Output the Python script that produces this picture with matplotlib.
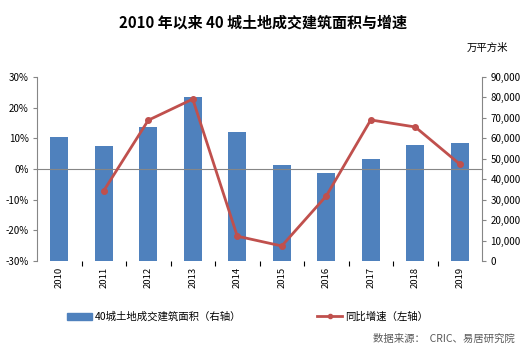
import matplotlib.pyplot as plt
from matplotlib.lines import Line2D
from matplotlib.patches import Patch
from matplotlib.ticker import FuncFormatter, FixedLocator

plt.rcParams['font.family'] = ['Noto Sans CJK SC', 'DejaVu Sans']

years = ['2010', '2011', '2012', '2013', '2014', '2015', '2016', '2017', '2018', '2019']
area = [60700, 56400, 65400, 80400, 62900, 47000, 42900, 49700, 56600, 57700]  # 万平方米
growth = [None, -7.1, 15.9, 22.8, -21.9, -25.1, -8.8, 16.0, 13.7, 1.6]  # %

bar_color = '#4F81BD'
line_color = '#C0504D'
axis_grey = '#868686'

fig = plt.figure(figsize=(5.31, 3.5), dpi=100)
ax = fig.add_axes([37 / 531, 89 / 350, 445 / 531, 184 / 350])
ax2 = ax.twinx()
x = list(range(len(years)))

# bars on the primary axes, scale shown on the right
ax.bar(x, area, width=0.4, color=bar_color, zorder=2)
ax.set_xlim(-0.5, len(years) - 0.5)
ax.set_ylim(0, 90000)
ax.yaxis.tick_right()
ax.yaxis.set_label_position('right')
ax.yaxis.set_major_locator(FixedLocator(range(0, 90001, 10000)))
ax.yaxis.set_major_formatter(FuncFormatter(lambda v, p: f'{int(v):,}'))
ax.tick_params(axis='y', direction='out', length=3, color=axis_grey, labelsize=7, pad=3)
for s in ['top', 'left', 'bottom']:
    ax.spines[s].set_visible(False)
ax.spines['right'].set_visible(True)
ax.spines['right'].set_color(axis_grey)
ax.set_xticks([])

# growth line on the twin axes, scale shown on the left
ax2.set_ylim(-30, 30)
ax2.yaxis.tick_left()
ax2.yaxis.set_label_position('left')
ax2.yaxis.set_major_locator(FixedLocator(range(-30, 31, 10)))
ax2.yaxis.set_major_formatter(FuncFormatter(lambda v, p: f'{int(v)}%'))
ax2.tick_params(axis='y', direction='out', length=3, color=axis_grey, labelsize=7, pad=3)
for s in ['top', 'right']:
    ax2.spines[s].set_visible(False)
ax2.spines['left'].set_visible(True)
ax2.spines['left'].set_color(axis_grey)
ax2.spines['bottom'].set_visible(True)
ax2.spines['bottom'].set_position(('data', 0))
ax2.spines['bottom'].set_color(axis_grey)
ax2.spines['bottom'].set_zorder(1)
ax2.set_xticks([i + 0.5 for i in x[:-1]])
ax2.set_xticklabels([])
ax2.tick_params(axis='x', direction='out', length=3, color=axis_grey)

gx = [i for i, g in zip(x, growth) if g is not None]
gy = [g for g in growth if g is not None]
ax2.plot(gx, gy, color=line_color, lw=2, marker='o', ms=4, zorder=3)

# year labels along the bottom edge
sec = ax.secondary_xaxis(0)
sec.set_xticks(x)
sec.set_xticklabels(years, rotation=90, fontsize=6.8)
sec.tick_params(length=0, pad=4)
sec.spines['bottom'].set_visible(False)

fig.text(0.495, 0.937, '2010 年以来 40 城土地成交建筑面积与增速',
         ha='center', va='center', fontsize=10.8, fontweight='bold')
fig.text(0.957, 0.862, '万平方米', ha='right', va='center', fontsize=7.5)

handles = [Patch(color=bar_color),
           Line2D([], [], color=line_color, lw=2, marker='o', ms=3)]
labels = ['40城土地成交建筑面积（右轴）', '同比增速（左轴）']
fig.legend(handles, labels, loc='center', bbox_to_anchor=(0.466, 0.095), ncol=2,
           frameon=False, fontsize=7.5, handlelength=2.4, handleheight=0.6,
           handletextpad=0.3, columnspacing=7.3)

fig.text(0.97, 0.032, '数据来源：  CRIC、易居研究院', ha='right', va='center',
         fontsize=7.5, color='#595959')

fig.savefig('out.png', dpi=100)
